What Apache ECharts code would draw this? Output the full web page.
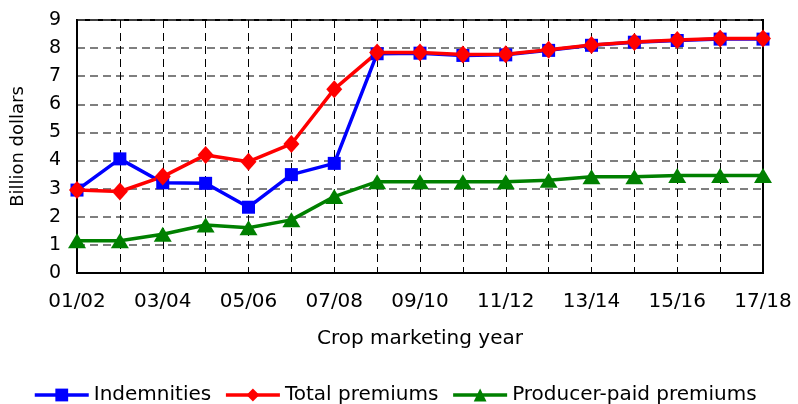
<!DOCTYPE html>
<html>
<head>
<meta charset="utf-8">
<script src="https://cdn.jsdelivr.net/npm/echarts@6/dist/echarts.min.js"></script>
<style>
    html, body { margin: 0; padding: 0; background: #fff; }
    #chart { width: 798px; height: 404px; }
</style>
</head>
<body>
<div id="chart"></div>
<script>
// crop marketing years
var years = ['01/02', '02/03', '03/04', '04/05', '05/06', '06/07', '07/08', '08/09', '09/10',
    '10/11', '11/12', '12/13', '13/14', '14/15', '15/16', '16/17', '17/18'];
// billion dollars
var indemnities = [2.95, 4.06, 3.21, 3.19, 2.34, 3.5, 3.9, 7.8, 7.82, 7.74, 7.76, 7.92, 8.1, 8.21, 8.27, 8.32, 8.32];
var totalPremiums = [2.95, 2.9, 3.43, 4.2, 3.96, 4.59, 6.54, 7.84, 7.84, 7.77, 7.78, 7.94, 8.11, 8.22, 8.29, 8.34, 8.34];
var producerPaid = [1.15, 1.15, 1.38, 1.71, 1.61, 1.89, 2.72, 3.25, 3.25, 3.25, 3.25, 3.3, 3.42, 3.42, 3.47, 3.47, 3.47];

var font = 'DejaVu Sans';
var chart = echarts.init(document.getElementById('chart'));

function line(name, data, color, symbol, size) {
    return {
        name: name,
        type: 'line',
        data: data,
        symbol: symbol,
        symbolSize: size,
        itemStyle: {color: color},
        lineStyle: {color: color, width: 3.5},
        animation: false
    };
}

chart.setOption({
    backgroundColor: '#fff',
    grid: {
        left: 77, right: 35, top: 20, bottom: 131,
        show: true, borderColor: '#000', borderWidth: 2
    },
    legend: {
        bottom: -6,
        left: 28,
        itemWidth: 54,
        itemHeight: 16,
        itemGap: 13,
        lineStyle: {width: 3.5},
        textStyle: {fontFamily: font, fontSize: 20, color: '#000'},
        data: ['Indemnities', 'Total premiums', 'Producer-paid premiums']
    },
    xAxis: {
        type: 'category',
        data: years,
        boundaryGap: false,
        name: 'Crop marketing year',
        nameLocation: 'middle',
        nameGap: 56,
        nameTextStyle: {fontFamily: font, fontSize: 20, color: '#000'},
        axisLine: {lineStyle: {color: '#000', width: 2}},
        axisTick: {show: true, inside: true, length: 6, interval: 0, lineStyle: {color: '#000'}},
        axisLabel: {interval: 1, margin: 19, fontFamily: font, fontSize: 20, color: '#000'},
        splitLine: {show: true, interval: 0, lineStyle: {color: '#000', type: [8, 5], width: 1}}
    },
    yAxis: {
        type: 'value',
        min: 0, max: 9, interval: 1,
        name: 'Billion dollars',
        nameLocation: 'middle',
        nameGap: 50,
        nameRotate: 90,
        nameTextStyle: {fontFamily: font, fontSize: 18, color: '#000'},
        axisLine: {show: true, lineStyle: {color: '#000', width: 2}},
        axisTick: {show: false},
        axisLabel: {margin: 16, fontFamily: font, fontSize: 19, color: '#000'},
        splitLine: {show: true, lineStyle: {color: '#555', type: [8, 5], width: 1.5}}
    },
    series: [
        line('Indemnities', indemnities, '#0000ff', 'rect', 13),
        line('Total premiums', totalPremiums, '#ff0000', 'diamond', [16, 18]),
        line('Producer-paid premiums', producerPaid, '#008000', 'triangle', [18, 15])
    ]
});
</script>
</body>
</html>
